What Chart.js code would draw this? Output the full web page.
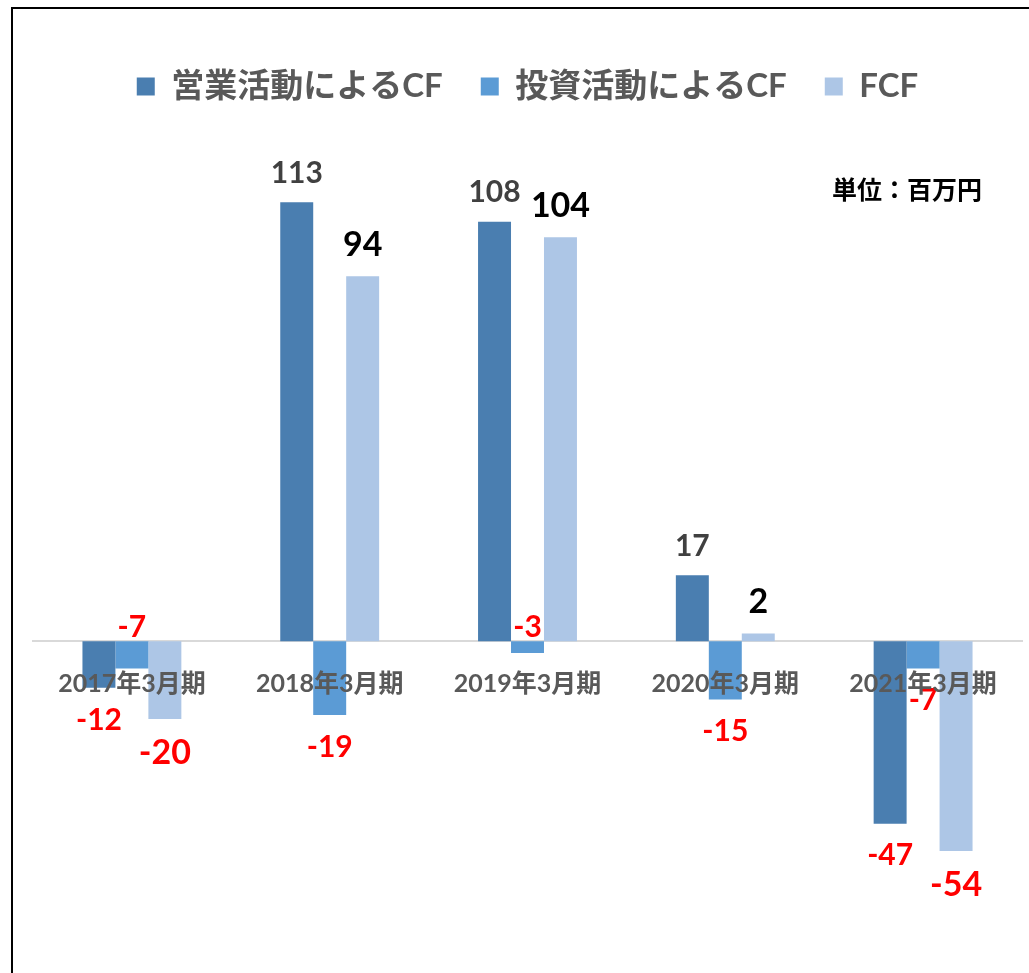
<!DOCTYPE html>
<html lang="ja">
<head>
<meta charset="utf-8">
<script src="https://cdn.jsdelivr.net/npm/chart.js@4.4.0/dist/chart.umd.min.js"></script>
<style>
  html, body { margin:0; padding:0; background:#fff; }
  body { width:1029px; height:973px; overflow:hidden; position:relative; }
  .frame { position:absolute; left:11px; top:7px; width:1040px; height:980px; border:2px solid #000; }
  .unit { position:absolute; left:832px; top:176px; font:bold 25px "Noto Sans CJK JP", sans-serif; color:#000; line-height:1; white-space:nowrap; }
</style>
</head>
<body>
<div class="frame"><canvas id="cf" width="1040" height="980"></canvas></div>
<div class="unit">単位：百万円</div>
<script>
    // データ（単位：百万円）
    const categories = ['2017年3月期', '2018年3月期', '2019年3月期', '2020年3月期', '2021年3月期'];
    const seriesNames = ['営業活動によるCF', '投資活動によるCF', 'FCF'];
    const operatingCF = [-12, 113, 108, 17, -47];
    const investingCF = [-7, -19, -3, -15, -7];
    const freeCF = [-20, 94, 104, 2, -54];

    const COLORS = ['#4A7EB0', '#5B9BD5', '#ADC6E6'];
    const NUM_FONT = 'Lato, "Noto Sans CJK JP", sans-serif';

    // label style per series: size, colour for positives
    const LABEL_STYLE = [
      { size:30, pos:'#404040', gap:14 },
      { size:30, pos:'#404040', gap:14 },
      { size:34, pos:'#000000', gap:14 },
    ];
    // small negatives that sit above the axis in the original
    const LABEL_ABOVE = [
      [false, false, false, false, false],
      [true,  false, true,  false, false],
      [false, false, false, false, false],
    ];

    const valueLabels = {
      id: 'valueLabels',
      afterDatasetsDraw(chart){
        const ctx = chart.ctx;
        const zero = chart.scales.y.getPixelForValue(0);
        ctx.save();
        ctx.textAlign = 'center';
        ctx.textBaseline = 'middle';
        chart.data.datasets.forEach((ds, di)=>{
          const st = LABEL_STYLE[di];
          chart.getDatasetMeta(di).data.forEach((bar, i)=>{
            const v = ds.data[i];
            ctx.font = `bold ${st.size}px ${NUM_FONT}`;
            ctx.fillStyle = v < 0 ? '#FF0000' : st.pos;
            const half = st.size * 0.5;
            let y;
            if(LABEL_ABOVE[di][i]) y = zero - 14;
            else if(v >= 0) y = bar.y - st.gap - half;
            else y = bar.y + st.gap + half + 3;
            ctx.fillText(String(v), bar.x, y);
          });
        });
        ctx.restore();
      }
    };

    new Chart(document.getElementById('cf'), {
      type: 'bar',
      data: {
        labels: categories,
        datasets: [operatingCF, investingCF, freeCF].map((d, i)=>({
          label: seriesNames[i],
          data: d,
          backgroundColor: COLORS[i],
          borderWidth: 0,
          categoryPercentage: 0.5,
          barPercentage: 1.0
        }))
      },
      options: {
        responsive: false,
        animation: false,
        layout: { padding: { left:20, right:31, top:23, bottom:37 } },
        plugins: {
          legend: {
            position: 'top',
            labels: {
              boxWidth: 18, boxHeight: 18, padding: 38,
              color: '#595959',
              font: { family: NUM_FONT, size: 33, weight: 'bold' }
            }
          },
          tooltip: { enabled: false }
        },
        scales: {
          x: {
            position: { y: 0 },
            grid: { display: false, drawTicks: false },
            border: { display: true, color: '#D9D9D9', width: 2 },
            ticks: { z: 1, color: '#595959', padding: 28, font: { family: NUM_FONT, size: 25, weight: 'bold' } }
          },
          y: {
            display: false,
            min: -80, max: 136
          }
        }
      },
      plugins: [valueLabels]
    });
</script>
</body>
</html>
